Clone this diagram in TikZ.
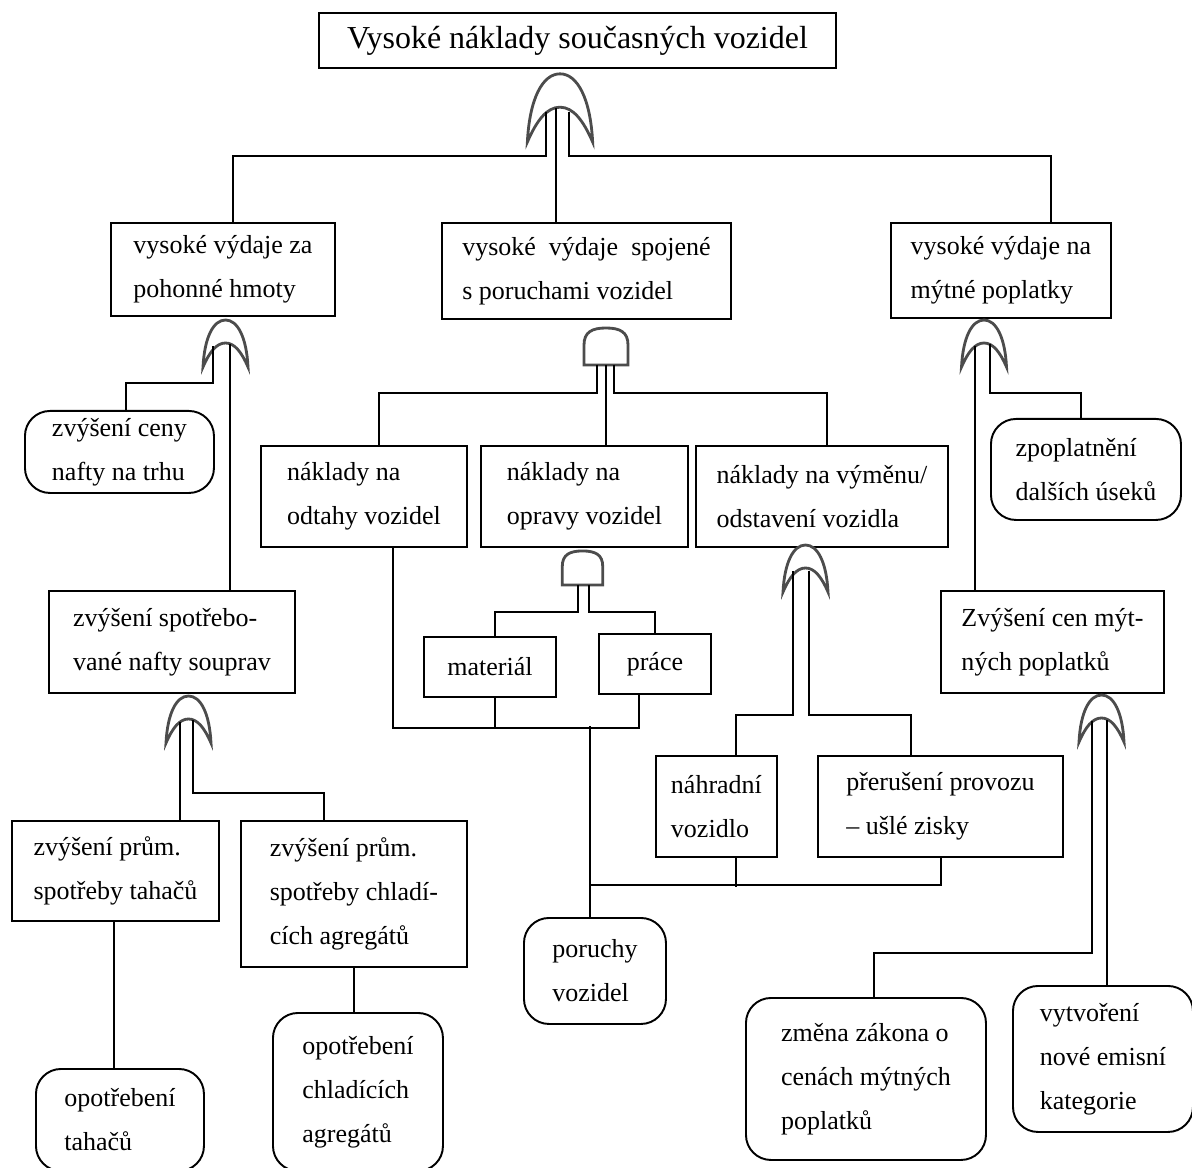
\documentclass[tikz,border=0pt]{standalone}
\usepackage{fontspec}
\setmainfont{Liberation Serif}
\usetikzlibrary{calc}
\tikzset{
  blok/.style 2 args={draw, line width=1.1pt, anchor=north west, inner sep=0pt,
    minimum width=#1*0.02cm, minimum height=#2*0.02cm, align=left,
    font=\fontsize{14.8}{25}\selectfont},
  oblo/.style={rounded corners=0.5cm},
  brana/.style={draw=black!70, line width=1.6pt, fill=white},
  orbrana/.pic={\path[brana] (-22.5,0) .. controls (-21,-30) and (-12,-47) .. (0,-47)
      .. controls (12,-47) and (21,-30) .. (22.5,0) .. controls (16,-15) and (9,-24) .. (0,-24)
      .. controls (-9,-24) and (-16,-15) .. (-22.5,0) -- cycle;},
  andbrana/.pic={\path[brana] (-22,0) -- (-22,-20) .. controls (-22,-33) and (-14,-37) .. (0,-37)
      .. controls (14,-37) and (22,-33) .. (22,-20) -- (22,0) -- cycle;}
}
\begin{document}
\begin{tikzpicture}[x=0.02cm,y=-0.02cm,line width=1.1pt]
\useasboundingbox (0,0) rectangle (1192,1168);
% hlavni udalost
\node[blok={517}{55},align=center,font=\fontsize{18.2}{22}\selectfont] (hlavni) at (318,12) {Vysoké náklady současných vozidel};
% druha uroven
\node[blok={224}{93}] (b1) at (110,222) {vysoké výdaje za\\pohonné hmoty};
\node[blok={289}{96}] (b2) at (441,222) {vysoké\hspace{0.25em} výdaje\hspace{0.25em} spojené\\s poruchami vozidel};
\node[blok={220}{95}] (b3) at (890,222) {vysoké výdaje na\\mýtné poplatky};
% palivo
\node[blok={189}{82},oblo] (zc) at (24,410) {zvýšení ceny\\nafty na trhu};
\node[blok={246}{102}] (sp) at (48,590) {zvýšení spotřebo-\\vané nafty souprav};
\node[blok={207}{100}] (tahace) at (11,820) {zvýšení prům.\\spotřeby tahačů};
\node[blok={226}{146}] (chladi) at (240,820) {zvýšení prům.\\spotřeby chladí-\\cích agregátů};
\node[blok={168}{102},oblo] (opttah) at (35,1068) {opotřebení\\tahačů};
\node[blok={170}{158},oblo] (optchl) at (272,1012) {opotřebení\\chladících\\agregátů};
% poruchy
\node[blok={206}{101}] (odtahy) at (260,445) {náklady na\\odtahy vozidel};
\node[blok={207}{101}] (opravy) at (480,445) {náklady na\\opravy vozidel};
\node[blok={252}{101}] (vymenu) at (695,445) {náklady na výměnu/\\odstavení vozidla};
\node[blok={132}{60},align=center] (material) at (423,636) {materiál};
\node[blok={112}{60},align=center] (prace) at (598,633) {práce};
\node[blok={121}{101}] (nahradni) at (655,755) {náhradní\\vozidlo};
\node[blok={245}{101}] (preruseni) at (817,755) {přerušení provozu\\– ušlé zisky};
\node[blok={142}{106},oblo] (poruchy) at (523,917) {poruchy\\vozidel};
% myto
\node[blok={190}{101},oblo] (zpopl) at (990,418) {zpoplatnění\\dalších úseků};
\node[blok={223}{102}] (zvcen) at (940,590) {Zvýšení cen mýt-\\ných poplatků};
\node[blok={240}{162},oblo] (zmena) at (745,997) {změna zákona o\\cenách mýtných\\poplatků};
\node[blok={180}{146},oblo] (vytvor) at (1012,985) {vytvoření\\nové emisní\\kategorie};

% hradla
\pic[scale=1.45] at (560,142) {orbrana};
\pic at (225.5,367) {orbrana};
\pic at (606,365) {andbrana};
\pic at (984,367) {orbrana};
\pic[scale=0.92] at (582.5,585) {andbrana};
\pic at (805.5,592) {orbrana};
\pic at (188.5,743) {orbrana};
\pic at (1101.5,742) {orbrana};

% vstupy hradel
\coordinate (g0l) at (546,112);
\coordinate (g0m) at (556,108);
\coordinate (g0r) at (569,112);
\coordinate (g1l) at (213,346);
\coordinate (g1r) at (230,344);
\coordinate (g2l) at (597,365);
\coordinate (g2m) at (606,365);
\coordinate (g2r) at (614,365);
\coordinate (g3l) at (975,346);
\coordinate (g3r) at (990,344);
\coordinate (g4l) at (578,585);
\coordinate (g4r) at (589,585);
\coordinate (g5l) at (793,571);
\coordinate (g5r) at (809,571);
\coordinate (g6l) at (180,722);
\coordinate (g6r) at (193,720);
\coordinate (g7l) at (1092,721);
\coordinate (g7r) at (1107,720);

% spoje
\draw (g0l) -- ++(0,44) -| ($(b1.north)+(10,0)$);
\draw (g0m) -- (g0m |- b2.north);
\draw (g0r) -- ++(0,44) -| ($(b3.north)+(50,0)$);
\draw (g1l) -- ++(0,37) -| ($(zc.north)+(6.5,0)$);
\draw (g1r) -- (g1r |- sp.north);
\draw (g2l) -- ++(0,28) -| ($(odtahy.north)+(15,0)$);
\draw (g2m) -- (g2m |- opravy.north);
\draw (g2r) -- ++(0,28) -| ($(vymenu.north)+(5,0)$);
\draw (g3l) -- (g3l |- zvcen.north);
\draw (g3r) -- ++(0,49) -| ($(zpopl.north)+(-5,0)$);
\draw (g4l) -- ++(0,27) -| ($(material.north)+(5,0)$);
\draw (g4r) -- ++(0,27) -| (prace.north);
\draw (g5l) -- ++(0,144) -| ($(nahradni.north)+(19.5,0)$);
\draw (g5r) -- ++(0,144) -| ($(preruseni.north)+(-29.5,0)$);
\draw (g6l) -- (g6l |- tahace.north);
\draw (g6r) -- ++(0,73) -| ($(chladi.north)+(-30,0)$);
\draw (g7l) -- ++(0,232) -| ($(zmena.north)+(8,0)$);
\draw (g7r) -- (g7r |- vytvor.north);
\draw ($(tahace.south)+(-1.5,0)$) -- ++(0,148);
\draw (chladi.south) -- (chladi.south |- optchl.north);
\draw ($(odtahy.south)+(29,0)$) -- ++(0,180) -| ($(prace.south)+(-16,0)$);
\draw ($(material.south)+(5,0)$) -- ++(0,30);
\draw ($(poruchy.north)+(-5,0)$) -- ++(0,-191);
\draw ($(poruchy.north)+(-5,-32)$) -| ($(preruseni.south)+(0.5,0)$);
\draw ($(nahradni.south)+(19.5,0)$) -- ++(0,29);
\end{tikzpicture}
\end{document}
